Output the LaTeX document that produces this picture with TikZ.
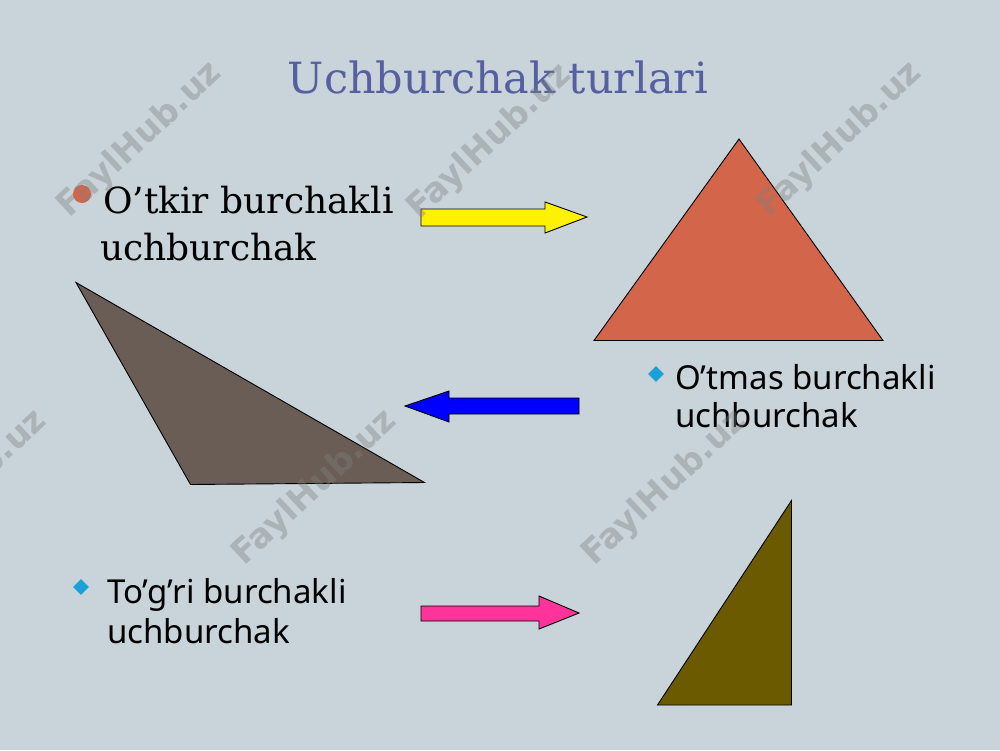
\documentclass[tikz,border=0pt]{standalone}
\usepackage{fontspec}
\setmainfont{DejaVu Serif}
\newfontfamily\sansf{Noto Sans}
\newfontfamily\wmf{DejaVu Sans Bold}
\usetikzlibrary{shapes.geometric}
\definecolor{bgc}{HTML}{C8D3DA}
\definecolor{titlec}{HTML}{5660A0}
\definecolor{acutec}{HTML}{D2654A}
\definecolor{obtusec}{HTML}{6A5D55}
\definecolor{rightc}{HTML}{6B5A00}
\definecolor{diamc}{HTML}{1BA0D8}
\definecolor{pinkc}{HTML}{FF3399}
\tikzset{
  tri/.style={draw=black, line width=0.9pt, line join=miter},
  arr/.style={draw=black, line width=0.9pt, line join=miter},
  serift/.style={anchor=base west, inner sep=0pt, font=\fontsize{36}{42}\selectfont},
  sanst/.style={anchor=base west, inner sep=0pt, font=\sansf\fontsize{33}{40}\selectfont},
  wm/.style={rotate=43, text=gray, opacity=0.38, font=\wmf\fontsize{34}{40}\selectfont, inner sep=0pt},
  diam/.style={diamond, fill=diamc, inner sep=0pt, minimum size=16pt}
}
\begin{document}
\begin{tikzpicture}[x=1pt,y=-1pt]
\fill[bgc] (0,0) rectangle (1000,750);
\useasboundingbox (0,0) rectangle (1000,750);

% title
\node[anchor=base, inner sep=0pt, text=titlec, font=\fontsize{43}{52}\selectfont] (title) at (498,93) {Uchburchak turlari};

% triangles
\draw[tri, fill=acutec] (739,139) -- (594,340.5) -- (883,340.5) -- cycle;
\draw[tri, fill=obtusec] (76,282.5) -- (190.5,484.5) -- (424.5,482.5) -- cycle;
\draw[tri, fill=rightc] (791.5,500.5) -- (791.5,705) -- (657.5,705) -- cycle;

% arrows
\draw[arr, fill=yellow] (421,209) -- (545,209) -- (545,202) -- (587,217) -- (545,233) -- (545,226) -- (421,226) -- cycle;
\draw[arr, fill=blue] (579,398) -- (449,398) -- (449,391) -- (405,406) -- (449,422) -- (449,414) -- (579,414) -- cycle;
\draw[arr, fill=pinkc] (421,606) -- (539,606) -- (539,596) -- (579,613) -- (539,629) -- (539,621) -- (421,621) -- cycle;

% bullet 1
\fill[acutec] (82,194) circle (9);
\node[serift] (t1a) at (103,213) {O’tkir burchakli};
\node[serift] (t1b) at (100,260) {uchburchak};

% bullet 2
\node[diam] (d2) at (656,374) {};
\node[sanst] (t2a) at (675,389) {O’tmas burchakli};
\node[sanst] (t2b) at (675,427) {uchburchak};

% bullet 3
\node[diam] (d3) at (81,587) {};
\node[sanst] (t3a) at (107,603) {To’g’ri burchakli};
\node[sanst] (t3b) at (107,643) {uchburchak};

% watermarks
\node[wm] (w1) at (140,140) {FaylHub.uz};
\node[wm] (w2) at (490,142) {FaylHub.uz};
\node[wm] (w3) at (840,140) {FaylHub.uz};
\node[wm] (w4) at (-35,488) {FaylHub.uz};
\node[wm] (w5) at (315,488) {FaylHub.uz};
\node[wm] (w6) at (665,488) {FaylHub.uz};
\end{tikzpicture}
\end{document}
